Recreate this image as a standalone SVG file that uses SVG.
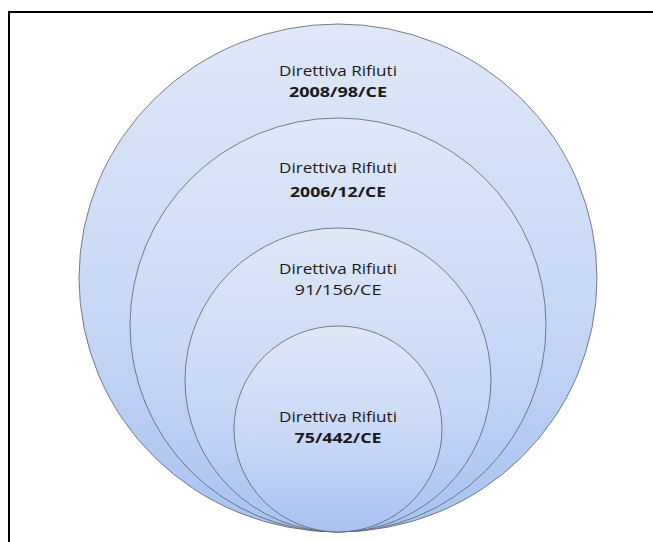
<svg xmlns="http://www.w3.org/2000/svg" width="653" height="542" viewBox="0 0 653 542">
<style>
.ring{stroke:#5a5f6a;stroke-width:0.8;fill:url(#g)}
.t{font-family:"Open Sans","Liberation Sans",sans-serif;font-size:14px;fill:#1a1a1a;text-anchor:middle}
.b{font-weight:bold}
</style>
<defs>
<linearGradient id="g" x1="0" y1="0" x2="0" y2="1">
<stop offset="0" stop-color="#e0e8f8"/>
<stop offset="0.6" stop-color="#c6d6f6"/>
<stop offset="1" stop-color="#a8c2f1"/>
</linearGradient>
</defs>
<rect width="653" height="542" fill="#ffffff"/>
<g id="frame" stroke="#000" stroke-width="2" fill="none">
<line x1="8" y1="12" x2="653" y2="12"/>
<line x1="9" y1="11" x2="9" y2="542"/>
</g>
<g id="connectors"></g>
<g id="n2008">
<ellipse class="ring" cx="338" cy="278" rx="259" ry="254"/>
<text class="t" x="338" y="76" textLength="118" lengthAdjust="spacingAndGlyphs">Direttiva Rifiuti</text>
<text class="t b" x="338" y="97" textLength="98" lengthAdjust="spacingAndGlyphs">2008/98/CE</text>
</g>
<g id="n2006">
<ellipse class="ring" cx="338" cy="325" rx="208" ry="207"/>
<text class="t" x="338" y="173" textLength="118" lengthAdjust="spacingAndGlyphs">Direttiva Rifiuti</text>
<text class="t b" x="338" y="197" textLength="96" lengthAdjust="spacingAndGlyphs">2006/12/CE</text>
</g>
<g id="n91">
<ellipse class="ring" cx="338" cy="380" rx="153" ry="152"/>
<text class="t" x="338" y="274" textLength="118" lengthAdjust="spacingAndGlyphs">Direttiva Rifiuti</text>
<text class="t" x="338" y="295" textLength="87" lengthAdjust="spacingAndGlyphs">91/156/CE</text>
</g>
<g id="n75">
<ellipse class="ring" cx="338" cy="429" rx="104" ry="103"/>
<text class="t" x="338" y="422" textLength="118" lengthAdjust="spacingAndGlyphs">Direttiva Rifiuti</text>
<text class="t b" x="338" y="443" textLength="87" lengthAdjust="spacingAndGlyphs">75/442/CE</text>
</g>
</svg>
